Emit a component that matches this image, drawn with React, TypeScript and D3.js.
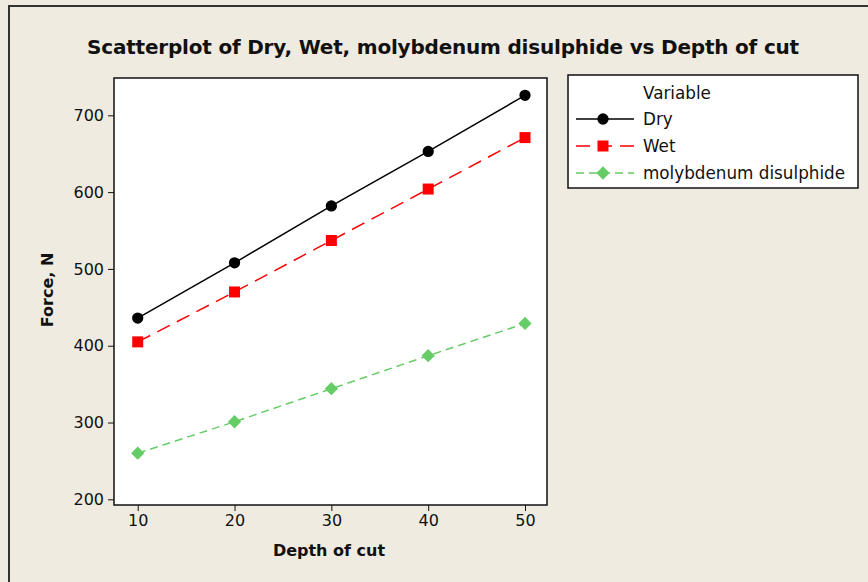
import { useRef, useEffect } from 'react'
import * as d3 from 'd3';

const depths = [10, 20, 30, 40, 50];
const dry = [436, 508, 582, 653, 726];
const wet = [405, 470, 537, 604, 671];
const moly = [260, 301, 344, 387, 429];
const xTicks = [10, 20, 30, 40, 50];
const yTicks = [200, 300, 400, 500, 600, 700];
const seriesNames = ["Dry", "Wet", "molybdenum disulphide"];

function App() {
    const d3Container = useRef(null);

    const width = 868;
    const height = 582;

    useEffect(() => {
        document.body.style.margin = "0";

        const plotLeft = 114;
        const plotRight = 547;
        const plotTop = 78;
        const plotBottom = 505;

        const svg = d3.select(d3Container.current);
        svg.selectAll("*").remove();

        // page background + frame
        svg.append("rect")
           .attr("width", width).attr("height", height)
           .attr("fill", "#efebe1");
        svg.append("path")
           .attr("d", `M9,${height} L9,6 L${width},6`)
           .attr("fill", "none")
           .attr("stroke", "#333")
           .attr("stroke-width", 2);

        svg.append("text")
           .attr("x", 443)
           .attr("y", 54)
           .attr("text-anchor", "middle")
           .attr("font-family", "DejaVu Sans")
           .attr("font-weight", "bold")
           .attr("font-size", 20)
           .attr("letter-spacing", -0.2)
           .attr("fill", "#111")
           .text("Scatterplot of Dry, Wet, molybdenum disulphide vs Depth of cut");

        const x = d3.scaleLinear().domain([7.55, 52.27]).range([plotLeft, plotRight]);
        const y = d3.scaleLinear().domain([192.6, 748.6]).range([plotBottom, plotTop]);

        svg.append("rect")
           .attr("x", plotLeft).attr("y", plotTop)
           .attr("width", plotRight - plotLeft).attr("height", plotBottom - plotTop)
           .attr("fill", "white")
           .attr("stroke", "#111")
           .attr("stroke-width", 1.5);

        // axes
        const xAxis = d3.axisBottom(x).tickValues(xTicks).tickSize(6).tickSizeOuter(0).tickPadding(4);
        const yAxis = d3.axisLeft(y).tickValues(yTicks).tickSize(6).tickSizeOuter(0).tickPadding(4);

        svg.append("g")
           .attr("transform", `translate(0,${plotBottom})`)
           .call(xAxis)
           .call((g) => g.select(".domain").remove())
           .call((g) => g.selectAll("text").attr("font-family", "DejaVu Sans").attr("font-size", 16).attr("fill", "#111"))
           .call((g) => g.selectAll("line").attr("stroke", "#111"));

        svg.append("g")
           .attr("transform", `translate(${plotLeft},0)`)
           .call(yAxis)
           .call((g) => g.select(".domain").remove())
           .call((g) => g.selectAll("text").attr("font-family", "DejaVu Sans").attr("font-size", 16).attr("fill", "#111"))
           .call((g) => g.selectAll("line").attr("stroke", "#111"));

        svg.append("text")
           .attr("x", 329).attr("y", 556)
           .attr("text-anchor", "middle")
           .attr("font-family", "DejaVu Sans")
           .attr("font-weight", "bold")
           .attr("font-size", 16)
           .attr("fill", "#111")
           .text("Depth of cut");

        svg.append("text")
           .attr("transform", "translate(53,290) rotate(-90)")
           .attr("text-anchor", "middle")
           .attr("font-family", "DejaVu Sans")
           .attr("font-weight", "bold")
           .attr("font-size", 16)
           .attr("fill", "#111")
           .text("Force, N");

        const series = [
            { name: seriesNames[0], values: dry, color: "#000000", dash: null, symbol: d3.symbolCircle, size: 100, rot: 0 },
            { name: seriesNames[1], values: wet, color: "#ff0000", dash: "14,8", symbol: d3.symbolSquare, size: 121, rot: 0 },
            { name: seriesNames[2], values: moly, color: "#66cc66", dash: "8,5", symbol: d3.symbolSquare, size: 88, rot: 45 },
        ];

        const line = d3.line<number>()
                       .x((d, i) => x(depths[i]))
                       .y((d) => y(d));

        series.forEach((s) => {
            svg.append("path")
               .datum(s.values)
               .attr("d", line)
               .attr("fill", "none")
               .attr("stroke", s.color)
               .attr("stroke-width", 1.5)
               .attr("stroke-dasharray", s.dash);

            svg.append("g")
               .selectAll()
               .data(s.values)
               .join("path")
               .attr("transform", (d, i) => `translate(${x(depths[i])},${y(d)}) rotate(${s.rot})`)
               .attr("d", d3.symbol().type(s.symbol).size(s.size))
               .attr("fill", s.color);
        });

        // legend
        const legend = svg.append("g");
        legend.append("rect")
              .attr("x", 568).attr("y", 75)
              .attr("width", 290).attr("height", 113)
              .attr("fill", "white")
              .attr("stroke", "#111")
              .attr("stroke-width", 1.5);
        legend.append("text")
              .attr("x", 643).attr("y", 93)
              .attr("dy", "0.35em")
              .attr("font-family", "DejaVu Sans")
              .attr("font-size", 16.8)
              .attr("fill", "#111")
              .text("Variable");

        series.forEach((s, i) => {
            const ly = 119 + i * 27;
            legend.append("line")
                  .attr("x1", 576).attr("x2", 634)
                  .attr("y1", ly).attr("y2", ly)
                  .attr("stroke", s.color)
                  .attr("stroke-width", 1.5)
                  .attr("stroke-dasharray", s.dash);
            legend.append("path")
                  .attr("transform", `translate(603,${ly}) rotate(${s.rot})`)
                  .attr("d", d3.symbol().type(s.symbol).size(s.size))
                  .attr("fill", s.color);
            legend.append("text")
                  .attr("x", 643).attr("y", ly)
                  .attr("dy", "0.35em")
                  .attr("font-family", "DejaVu Sans")
                  .attr("font-size", 16.8)
                  .attr("fill", "#111")
                  .text(s.name);
        });
    });

    return (
        <>
            <svg width={width} height={height} ref={d3Container} style={{ display: "block" }} />
        </>
    )
}

export default App;
